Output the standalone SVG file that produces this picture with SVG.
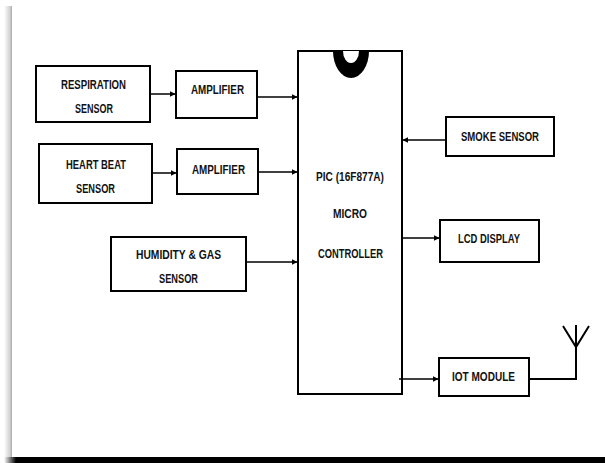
<svg xmlns="http://www.w3.org/2000/svg" width="605" height="463" viewBox="0 0 605 463">
<defs>
<marker id="ah" viewBox="0 0 10 10" refX="9" refY="5" markerWidth="6" markerHeight="6" markerUnits="userSpaceOnUse" orient="auto">
<path d="M0,0 L10,5 L0,10 z" fill="#000"/>
</marker>
<linearGradient id="lg" x1="0" x2="1" y1="0" y2="0">
<stop offset="0" stop-color="#ffffff"/>
<stop offset="0.75" stop-color="#d0d0d0"/>
<stop offset="1" stop-color="#a8a8a8"/>
</linearGradient>
<linearGradient id="bg" x1="0" x2="1" y1="0" y2="0">
<stop offset="0" stop-color="#ffffff"/>
<stop offset="1" stop-color="#000000"/>
</linearGradient>
</defs>
<style>
.box{fill:#fff;stroke:#000;stroke-width:2}
.t{font-family:"Liberation Sans",Arial,sans-serif;font-weight:bold;font-size:13.5px;fill:#111;text-anchor:middle}
.c{fill:none;stroke:#000;stroke-width:1.5}
</style>
<rect x="0" y="0" width="605" height="463" fill="#fff"/>
<rect x="4" y="6" width="8" height="451" fill="url(#lg)"/>
<rect x="4" y="457" width="12" height="6" fill="url(#bg)"/>
<rect x="16" y="457" width="589" height="6" fill="#000"/>

<g id="respiration">
<rect class="box" x="36" y="66" width="114" height="56"/>
<text class="t" x="93.5" y="89" textLength="65" lengthAdjust="spacingAndGlyphs">RESPIRATION</text>
<text class="t" x="94" y="113" textLength="38" lengthAdjust="spacingAndGlyphs">SENSOR</text>
</g>
<g id="amp1">
<rect class="box" x="176" y="71" width="81" height="47"/>
<text class="t" x="217.5" y="94" textLength="53" lengthAdjust="spacingAndGlyphs">AMPLIFIER</text>
</g>
<g id="heartbeat">
<rect class="box" x="39" y="144" width="113" height="59"/>
<text class="t" x="96" y="169" textLength="60" lengthAdjust="spacingAndGlyphs">HEART BEAT</text>
<text class="t" x="95.5" y="193" textLength="39" lengthAdjust="spacingAndGlyphs">SENSOR</text>
</g>
<g id="amp2">
<rect class="box" x="177" y="149" width="81" height="45"/>
<text class="t" x="218.5" y="174" textLength="53" lengthAdjust="spacingAndGlyphs">AMPLIFIER</text>
</g>
<g id="humidity">
<rect class="box" x="111" y="237" width="135" height="54"/>
<text class="t" x="178.5" y="259" textLength="85" lengthAdjust="spacingAndGlyphs">HUMIDITY &amp; GAS</text>
<text class="t" x="178.5" y="283" textLength="39" lengthAdjust="spacingAndGlyphs">SENSOR</text>
</g>
<g id="pic">
<rect class="box" x="298" y="51" width="104" height="343"/>
<path d="M333,51 A18,27 0 0 0 369,51 Z" fill="#000"/>
<path d="M343,51 A8,12 0 0 0 359,51 Z" fill="#fff"/>
<text class="t" x="350" y="181" textLength="68" lengthAdjust="spacingAndGlyphs">PIC (16F877A)</text>
<text class="t" x="350" y="218" textLength="34" lengthAdjust="spacingAndGlyphs">MICRO</text>
<text class="t" x="350.5" y="258" textLength="65" lengthAdjust="spacingAndGlyphs">CONTROLLER</text>
</g>
<g id="smoke">
<rect class="box" x="446" y="117" width="108" height="39"/>
<text class="t" x="500" y="141" textLength="78" lengthAdjust="spacingAndGlyphs">SMOKE SENSOR</text>
</g>
<g id="lcd">
<rect class="box" x="440" y="220" width="99" height="42"/>
<text class="t" x="489" y="243" textLength="62" lengthAdjust="spacingAndGlyphs">LCD DISPLAY</text>
</g>
<g id="iot">
<rect class="box" x="439" y="358" width="90" height="38"/>
<text class="t" x="483.5" y="381" textLength="63" lengthAdjust="spacingAndGlyphs">IOT MODULE</text>
</g>
<g id="antenna">
<path d="M576,347 L576,325 M563,326 L576,347 L589,326" fill="none" stroke="#000" stroke-width="2"/>
</g>
<g id="connectors">
<line class="c" x1="151" y1="94" x2="175" y2="94" marker-end="url(#ah)"/>
<line class="c" x1="258" y1="97" x2="297" y2="97" marker-end="url(#ah)"/>
<line class="c" x1="153" y1="173" x2="176" y2="173" marker-end="url(#ah)"/>
<line class="c" x1="259" y1="172" x2="297" y2="172" marker-end="url(#ah)"/>
<line class="c" x1="247" y1="262" x2="297" y2="262" marker-end="url(#ah)"/>
<line class="c" x1="445" y1="140" x2="403" y2="140" marker-end="url(#ah)"/>
<line class="c" x1="403" y1="238" x2="439" y2="238" marker-end="url(#ah)"/>
<line class="c" x1="399" y1="379" x2="438" y2="379" marker-end="url(#ah)"/>
<path d="M530,379 L576,379 L576,346" fill="none" stroke="#000" stroke-width="2"/>
</g>
</svg>
